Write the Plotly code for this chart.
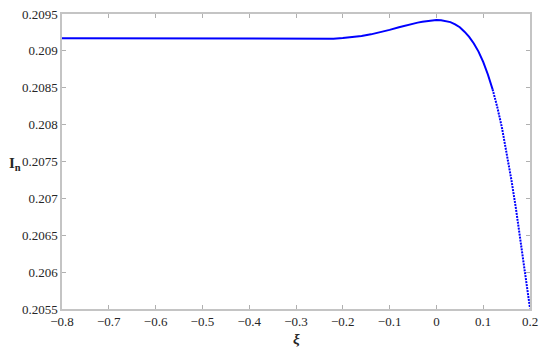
import plotly.graph_objects as go

xi = [-0.80, -0.70, -0.60, -0.50, -0.46, -0.45, -0.40, -0.35, -0.30, -0.25,
      -0.22, -0.20, -0.18, -0.16, -0.14, -0.12, -0.10, -0.08, -0.06, -0.04,
      -0.03, -0.02, -0.01, 0.00, 0.01, 0.02, 0.03, 0.04, 0.05, 0.06,
      0.07, 0.08, 0.09, 0.10, 0.11, 0.12, 0.13, 0.14, 0.15, 0.16,
      0.17, 0.18, 0.19, 0.20]
i_n = [0.209170, 0.209170, 0.209170, 0.209169, 0.209168, 0.209163, 0.209162, 0.209161, 0.209160, 0.209161,
       0.209166, 0.209174, 0.209187, 0.209203, 0.209224, 0.209250, 0.209285, 0.209320, 0.209355, 0.209383,
       0.209395, 0.209405, 0.209413, 0.209418, 0.209415, 0.209405, 0.209390, 0.209360, 0.209320, 0.209260,
       0.209190, 0.209100, 0.208990, 0.208850, 0.208680, 0.208480, 0.208240, 0.207960, 0.207630, 0.207260,
       0.206860, 0.206430, 0.205980, 0.205510]

x_ticks = [-0.8, -0.7, -0.6, -0.5, -0.4, -0.3, -0.2, -0.1, 0, 0.1, 0.2]
x_labels = ['−0.8', '−0.7', '−0.6', '−0.5', '−0.4', '−0.3', '−0.2', '−0.1', '0', '0.1', '0.2']
y_ticks = [0.2055, 0.206, 0.2065, 0.207, 0.2075, 0.208, 0.2085, 0.209, 0.2095]
y_labels = ['0.2055', '0.206', '0.2065', '0.207', '0.2075', '0.208', '0.2085', '0.209', '0.2095']

SERIF = '"Liberation Serif", "Times New Roman", serif'
TEXT = '#262626'

# la parte ripida appare puntinata (campionamento denso)
k = xi.index(0.12)

fig = go.Figure()
fig.add_trace(go.Scatter(x=xi[:k + 1], y=i_n[:k + 1], mode='lines',
                         line=dict(color='#0000ff', width=2), showlegend=False))
fig.add_trace(go.Scatter(x=xi[k:], y=i_n[k:], mode='lines',
                         line=dict(color='#0000ff', width=2, dash='2px,1px'), showlegend=False))

tick_font = dict(family=SERIF, size=13, color=TEXT)

fig.update_layout(
    template='none',
    width=550, height=354,
    margin=dict(l=62, r=20, t=14, b=45),
    paper_bgcolor='white', plot_bgcolor='white',
    font=dict(family=SERIF, size=13, color=TEXT),
    xaxis=dict(range=[-0.8, 0.2], tickmode='array', tickvals=x_ticks, ticktext=x_labels,
               tickfont=tick_font),
    yaxis=dict(range=[0.2055, 0.2095], tickmode='array', tickvals=y_ticks, ticktext=y_labels,
               tickfont=tick_font),
    annotations=[
        dict(text='<b><i>ξ</i></b>', x=0.5, y=-0.068, xref='paper', yref='paper',
             showarrow=False, yanchor='top', font=dict(family=SERIF, size=15, color=TEXT)),
        dict(text='<b>I<sub>n</sub></b>', x=-0.118, y=0.49, xref='paper', yref='paper',
             showarrow=False, xanchor='left', font=dict(family=SERIF, size=15, color=TEXT)),
    ],
)
# stile comune degli assi (riquadro grigio, tacche interne)
for ax in (fig.layout.xaxis, fig.layout.yaxis):
    ax.update(showline=True, linecolor='#c4c4c4', linewidth=1.5, mirror='ticks',
              ticks='inside', ticklen=4, tickcolor='#b0b0b0', showgrid=False, zeroline=False)

# togliere il margine di default della pagina
fig.write_html("out.html", config={'displayModeBar': False},
               post_script="document.body.style.margin='0px';")
